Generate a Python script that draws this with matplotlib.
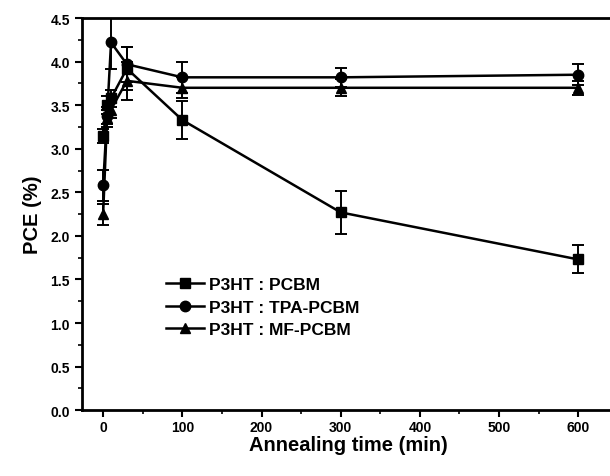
import numpy as np
import matplotlib.pyplot as plt
from matplotlib.lines import Line2D
from matplotlib.ticker import MultipleLocator

plt.rcParams["font.family"] = ["Liberation Sans", "DejaVu Sans"]
plt.rcParams["font.weight"] = "bold"

# Annealing time (min) and power conversion efficiency (%)
time_min = [0, 5, 10, 30, 100, 300, 600]

pcbm = [3.15, 3.50, 3.58, 3.92, 3.33, 2.27, 1.73]
pcbm_err = [0.08, 0.10, 0.10, 0.25, 0.22, 0.25, 0.16]

tpa_pcbm = [2.58, 3.38, 4.22, 3.97, 3.82, 3.82, 3.85]
tpa_pcbm_err = [0.18, 0.10, 0.30, 0.20, 0.18, 0.11, 0.12]

mf_pcbm = [2.25, 3.35, 3.45, 3.78, 3.70, 3.70, 3.70]
mf_pcbm_err = [0.12, 0.10, 0.10, 0.22, 0.12, 0.10, 0.08]

series = [
    (pcbm, pcbm_err, "s", "P3HT : PCBM"),
    (tpa_pcbm, tpa_pcbm_err, "o", "P3HT : TPA-PCBM"),
    (mf_pcbm, mf_pcbm_err, "^", "P3HT : MF-PCBM"),
]

fig = plt.figure(figsize=(6.1, 4.77), dpi=100)
ax = fig.add_axes([0.134, 0.138, 0.875, 0.822])

handles = []
for vals, errs, mk, label in series:
    ax.errorbar(time_min, vals, yerr=errs, color="black", marker=mk,
                markersize=7.5, linewidth=1.8, elinewidth=1.4, capsize=4,
                capthick=1.4)
    # legend shows line + marker only, no error bar
    handles.append(Line2D([], [], color="black", marker=mk, markersize=7.5,
                          linewidth=1.8, label=label))

ax.set_xlim(-27, 647)
ax.set_ylim(0, 4.5)
ax.xaxis.set_major_locator(MultipleLocator(100))
ax.xaxis.set_minor_locator(MultipleLocator(50))
ax.yaxis.set_major_locator(MultipleLocator(0.5))
ax.yaxis.set_minor_locator(MultipleLocator(0.25))
ax.yaxis.set_major_formatter(plt.FormatStrFormatter("%.1f"))

ax.tick_params(which="major", direction="out", length=5, width=1.5,
               labelsize=10)
ax.tick_params(axis="x", which="major", pad=2)
ax.tick_params(which="minor", direction="out", length=3, width=1.2)
for sp in ax.spines.values():
    sp.set_linewidth(2)

ax.set_xlabel("Annealing time (min)", fontsize=14.5, fontweight="bold",
              labelpad=1)
ax.set_ylabel("PCE (%)", fontsize=14.5, fontweight="bold", labelpad=6)

ax.legend(handles=handles, loc="upper left", bbox_to_anchor=(0.145, 0.357),
          frameon=False, fontsize=12.5, handlelength=2.2, labelspacing=0.42,
          borderaxespad=0, handletextpad=0.3)

plt.savefig("out.png", dpi=100)
